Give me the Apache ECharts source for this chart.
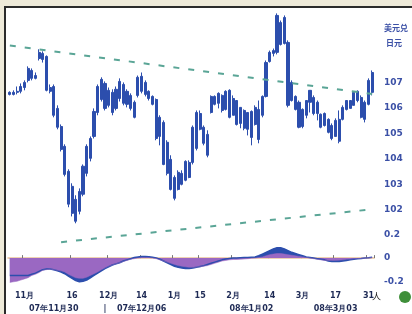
<!DOCTYPE html>
<html><head><meta charset="utf-8">
<script src="https://cdn.jsdelivr.net/npm/echarts@6/dist/echarts.min.js"></script>
<style>
html,body{margin:0;padding:0;width:412px;height:314px;overflow:hidden;background:#eeead9;}
#frame{position:absolute;left:4px;top:6px;width:406px;height:306px;background:#fff;border-left:2px solid #2b2b2b;border-top:2px solid #2b2b2b;}
#c{position:absolute;left:0;top:0;width:412px;height:314px;}
</style></head><body><div id="frame"></div><div id="c"></div>
<script>
const categories = Array.from({length:100},(_,i)=>String(i+1));
// [open, close, low, high]
const ohlc = [
[106.61,106.53,106.49,106.65],[106.53,106.61,106.49,106.69],[106.61,106.65,106.53,106.84],[106.65,106.84,106.57,106.96],
[106.80,107.00,106.69,107.08],[107.08,107.55,107.00,107.63],[107.47,107.16,107.08,107.55],[107.16,107.27,107.12,107.39],
[107.94,108.18,107.86,108.30],[108.14,107.90,107.78,108.22],[108.02,106.69,106.65,108.06],[106.80,106.65,106.57,106.92],
[106.84,105.71,105.63,106.92],[105.98,105.24,105.16,106.10],[105.27,104.37,104.29,105.35],[104.49,103.39,103.31,104.57],
[103.51,102.22,102.10,103.59],[102.92,101.86,101.74,103.04],[102.41,101.55,101.47,102.57],[101.94,102.72,101.82,102.84],
[102.61,103.71,102.53,103.78],[103.43,104.49,103.31,104.57],[104.02,104.80,103.90,104.88],[104.88,105.86,104.80,105.98],
[105.82,106.84,105.71,106.92],[106.33,107.12,106.25,107.20],[106.96,105.98,105.90,107.04],[106.10,106.69,106.02,106.80],
[106.61,105.82,105.71,106.73],[105.98,106.73,105.90,106.84],[106.37,107.04,106.25,107.16],[106.92,106.18,106.10,107.00],
[106.14,106.65,106.02,106.73],[106.49,105.98,105.90,106.57],[106.22,105.63,105.59,106.29],[106.49,107.20,106.41,107.27],
[107.24,106.65,106.57,107.39],[106.53,107.00,106.45,107.08],[106.65,106.37,106.29,106.69],[106.45,106.14,106.10,106.49],
[106.33,104.80,104.73,106.37],[104.88,105.63,104.53,105.71],[105.43,103.78,103.75,105.51],[104.65,103.43,103.35,104.73],
[103.98,102.80,102.76,104.14],[103.27,102.45,102.37,103.35],[102.80,103.47,102.76,103.55],[103.43,103.00,102.96,103.55],
[103.16,103.90,103.12,103.94],[103.86,103.27,103.24,103.94],[103.86,105.24,103.78,105.31],[104.41,105.82,104.33,105.90],
[105.78,105.16,105.12,105.90],[105.24,104.61,104.53,105.31],[104.96,104.14,104.06,105.12],[105.82,106.45,105.78,106.49],
[106.45,106.14,106.10,106.49],[106.18,106.57,105.98,106.61],[106.49,105.90,105.82,106.53],[105.94,106.65,105.90,106.69],
[106.69,105.63,105.59,106.73],[105.71,106.37,105.71,106.49],[106.29,105.35,105.31,106.29],[105.39,106.02,105.20,106.02],
[105.90,105.20,105.12,105.94],[105.16,105.82,104.92,105.82],[105.86,104.84,104.53,105.90],[105.35,106.02,105.31,106.10],
[105.94,104.76,104.61,106.29],[105.71,106.45,105.63,106.49],[106.45,107.78,106.41,107.86],[107.82,108.18,107.78,108.25],
[108.14,108.25,108.02,108.33],[108.18,109.63,108.10,109.71],[109.35,108.49,108.45,109.43],[108.53,109.55,108.49,109.63],
[108.57,106.10,106.02,108.65],[106.29,107.00,106.25,107.08],[106.45,105.94,105.90,106.49],[106.22,105.24,105.20,106.29],
[105.27,105.94,105.20,105.98],[105.71,106.29,105.59,106.29],[106.22,106.69,105.82,106.69],[106.41,105.78,105.71,106.49],
[105.78,106.22,105.51,106.29],[105.75,105.24,105.20,105.78],[105.31,105.78,105.27,105.82],[105.55,105.04,105.00,105.59],
[105.31,104.80,104.73,105.39],[104.88,105.51,104.88,105.59],[105.55,104.69,104.61,105.90],[105.55,106.02,105.51,106.10],
[105.94,106.29,105.90,106.29],[106.29,105.98,105.98,106.29],[106.10,106.61,106.10,106.61],[106.65,106.29,106.22,106.69],
[106.41,105.63,105.59,106.49],[105.55,106.22,105.43,106.29],[106.14,107.08,106.10,107.16],[106.61,107.39,106.49,107.47]
];
const dif = [
-0.21,-0.205,-0.20,-0.19,-0.18,-0.17,-0.15,-0.14,-0.125,-0.105,
-0.10,-0.095,-0.10,-0.105,-0.11,-0.12,-0.14,-0.155,-0.17,-0.175,
-0.175,-0.165,-0.15,-0.135,-0.12,-0.10,-0.085,-0.07,-0.06,-0.05,
-0.04,-0.03,-0.02,-0.01,-0.005,0,0.005,0.005,0.005,0,
-0.005,-0.015,-0.025,-0.035,-0.045,-0.055,-0.065,-0.07,-0.075,-0.08,
-0.08,-0.078,-0.075,-0.07,-0.065,-0.055,-0.045,-0.035,-0.025,-0.02,
-0.015,-0.012,-0.012,-0.01,-0.008,-0.005,-0.002,0,0.005,0.01,
0.02,0.03,0.035,0.04,0.04,0.035,0.03,0.025,0.02,0.015,
0.01,0.005,0,-0.005,-0.01,-0.015,-0.02,-0.02,-0.02,-0.02,
-0.018,-0.015,-0.01,-0.008,-0.005,-0.003,-0.002,0,0.002,0.005
];
const dea = [
-0.15,-0.15,-0.15,-0.15,-0.15,-0.15,-0.14,-0.13,-0.115,-0.10,
-0.095,-0.095,-0.10,-0.11,-0.12,-0.135,-0.155,-0.175,-0.195,-0.205,
-0.20,-0.19,-0.17,-0.15,-0.13,-0.11,-0.09,-0.075,-0.06,-0.05,
-0.04,-0.025,-0.015,-0.005,0.005,0.01,0.015,0.015,0.012,0.008,
0.002,-0.01,-0.025,-0.04,-0.055,-0.07,-0.08,-0.085,-0.09,-0.09,
-0.085,-0.08,-0.072,-0.065,-0.055,-0.045,-0.035,-0.025,-0.015,-0.008,
-0.003,0,0.002,0.004,0.005,0.006,0.008,0.01,0.02,0.035,
0.05,0.065,0.08,0.09,0.09,0.08,0.065,0.05,0.04,0.03,
0.02,0.01,0.005,0,-0.005,-0.01,-0.015,-0.025,-0.03,-0.03,
-0.03,-0.025,-0.02,-0.015,-0.01,-0.005,-0.003,0,0.003,0.008
];
const upperTrend = [[0,108.45],[99,106.55]];
const lowerTrend = [[14,100.73],[99,102.02]];
const priceTicks = [102,103,104,105,106,107];
const macdTicks = [-0.2,0,0.2];
const macdTickLabels = ['-0.2','0','0.2'];
const dateRow1Idx = [4,17,27,36,45,52,61,71,80,89,98];
const dateRow1 = ['11月','16','12月','14','1月','15','2月','14','3月','17','31'];
const dateRow2Idx = [12,26,36,66,89];
const dateRow2 = ['07年11月30','|','07年12月06','08年1月02','08年3月03'];
const titleLines = ['美元兑','日元'];

const blue = '#2c4ead';
const purple = '#9a68c2';
const chart = echarts.init(document.getElementById('c'));
const option = {
  backgroundColor:'transparent',
  animation:false,
  textStyle:{fontFamily:'DejaVu Sans'},
  grid:[{left:8,right:38,top:6,height:242},{left:8,right:38,top:235,height:52}],
  xAxis:[
    {type:'category',data:categories,gridIndex:0,show:false},
    {type:'category',data:categories,gridIndex:1,
     axisLine:{lineStyle:{color:'#eac29b',width:1.5}},
     axisTick:{show:true,inside:true,interval:(i)=>dateRow1Idx.includes(i),length:3,lineStyle:{color:'#777'}},
     axisLabel:{interval:(i)=>dateRow1Idx.includes(i),formatter:(v,i)=>dateRow1[dateRow1Idx.indexOf(i)],
       color:'#1e2a55',fontSize:8,fontWeight:'bold',margin:5}},
    {type:'category',data:categories,gridIndex:1,position:'bottom',offset:13,
     axisLine:{show:false},axisTick:{show:false},
     axisLabel:{interval:(i)=>dateRow2Idx.includes(i),formatter:(v,i)=>dateRow2[dateRow2Idx.indexOf(i)],
       color:'#1e2a55',fontSize:8,fontWeight:'bold',margin:5}}
  ],
  yAxis:[
    {type:'value',gridIndex:0,min:100.5,max:110,position:'right',splitLine:{show:false},
     axisLine:{show:false},axisTick:{show:false},
     axisLabel:{customValues:priceTicks,color:'#3b50a6',fontSize:9,fontWeight:'bold',margin:10}},
    {type:'value',gridIndex:1,min:-0.25,max:0.2,position:'right',splitLine:{show:false},
     axisLine:{show:false},axisTick:{show:false},
     axisLabel:{customValues:macdTicks,formatter:(v)=>macdTickLabels[macdTicks.indexOf(v)] ?? '',
       color:'#3b50a6',fontSize:9,fontWeight:'bold',margin:10}}
  ],
  series:[
    {type:'candlestick',xAxisIndex:0,yAxisIndex:0,data:ohlc,barWidth:2.6,
     itemStyle:{color:blue,color0:blue,borderColor:blue,borderColor0:blue,borderWidth:1},
     markLine:{silent:true,symbol:['none','none'],label:{show:false},
       lineStyle:{color:'#5aa596',width:2,type:[6,9]},
       data:[
         [{coord:[categories[upperTrend[0][0]],upperTrend[0][1]]},{coord:[categories[upperTrend[1][0]],upperTrend[1][1]]}],
         [{coord:[categories[lowerTrend[0][0]],lowerTrend[0][1]]},{coord:[categories[lowerTrend[1][0]],lowerTrend[1][1]]}]
       ]}},
    {type:'line',xAxisIndex:1,yAxisIndex:1,data:dea,symbol:'none',
     lineStyle:{color:blue,width:1.5},areaStyle:{color:blue,opacity:1,origin:0}},
    {type:'line',xAxisIndex:1,yAxisIndex:1,data:dif,symbol:'none',
     lineStyle:{color:purple,width:0.5},areaStyle:{color:purple,opacity:1,origin:0}}
  ],
  graphic:[
    {type:'text',left:384,top:24,style:{text:titleLines[0],fill:'#3b50a6',font:'bold 8px "Noto Sans CJK SC"'}},
    {type:'text',left:386,top:39,style:{text:titleLines[1],fill:'#3b50a6',font:'bold 8px "Noto Sans CJK SC"'}},
    {type:'circle',shape:{cx:405,cy:297,r:6},style:{fill:'#3f8f3a'}},
    {type:'text',left:372,top:292,style:{text:'人',fill:'#222',font:'9px "Noto Sans CJK SC"'}}
  ]
};
chart.setOption(option);
</script></body></html>
